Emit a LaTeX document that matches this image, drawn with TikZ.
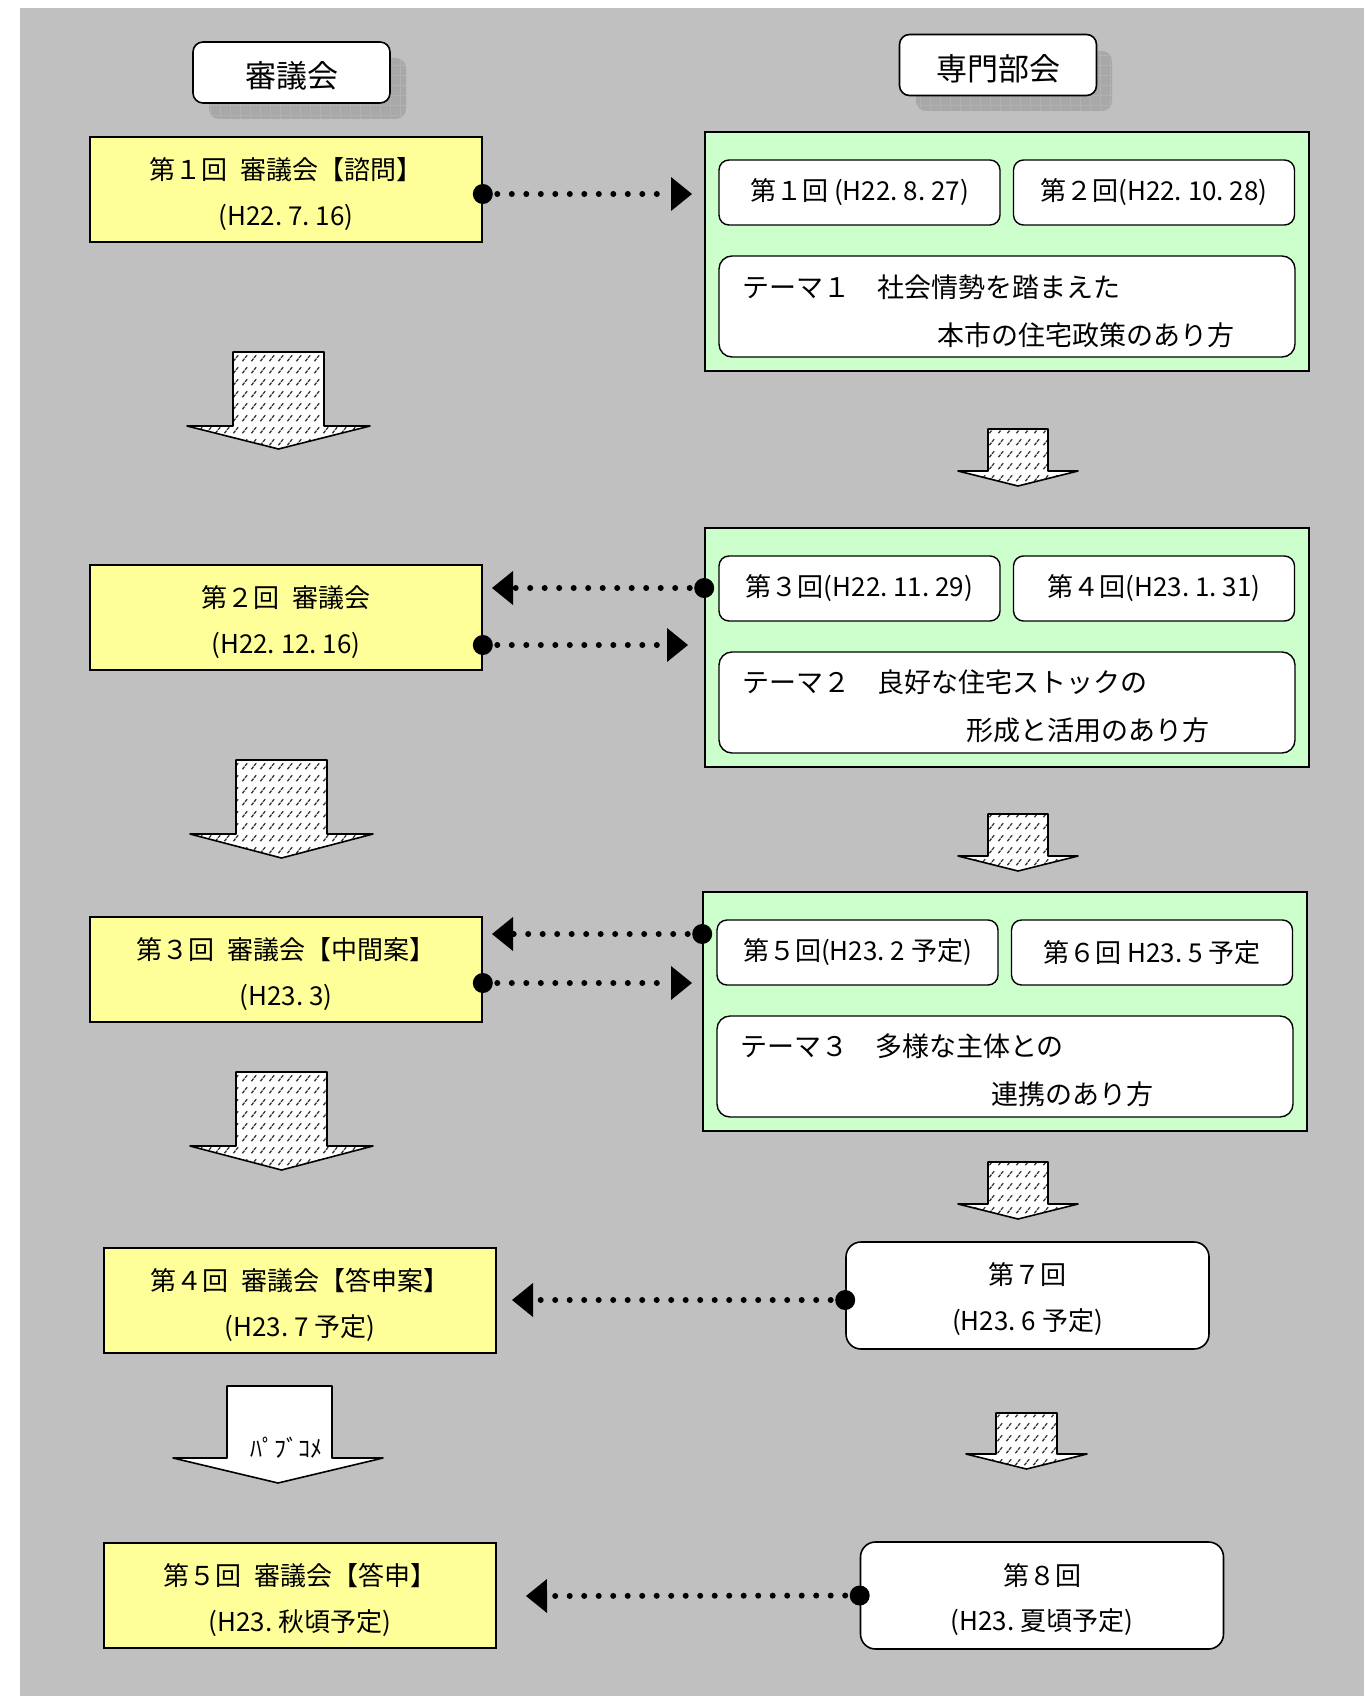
\documentclass[tikz,border=0pt]{standalone}
\usepackage{fontspec}
\newfontfamily\jpfont{Noto Sans CJK JP}
\usetikzlibrary{arrows.meta,patterns}

\definecolor{panel}{HTML}{C0C0C0}
\definecolor{councilfill}{HTML}{FFFF99}
\definecolor{sectionfill}{HTML}{CCFFCC}
\definecolor{shadowfill}{HTML}{A8A8A8}
\definecolor{shadowline}{HTML}{B8B8B8}
\definecolor{hatch}{HTML}{333333}

% short slanted dashes in rows, used inside the flow arrows
\pgfdeclarepatternformonly{slashrows}{\pgfqpoint{0pt}{0pt}}{\pgfqpoint{8.5pt}{12pt}}{\pgfqpoint{8.5pt}{12pt}}{%
  \pgfsetlinewidth{1.35pt}%
  \pgfpathmoveto{\pgfqpoint{1.5pt}{3pt}}\pgfpathlineto{\pgfqpoint{3.7pt}{5.8pt}}%
  \pgfpathmoveto{\pgfqpoint{4.3pt}{6.6pt}}\pgfpathlineto{\pgfqpoint{6.5pt}{9.4pt}}%
  \pgfusepath{stroke}}

% fine grid for the header shadows
\pgfdeclarepatternformonly{shadowgrid}{\pgfqpoint{0pt}{0pt}}{\pgfqpoint{10pt}{10pt}}{\pgfqpoint{10pt}{10pt}}{%
  \pgfsetlinewidth{0.8pt}%
  \pgfpathmoveto{\pgfqpoint{0pt}{0.4pt}}\pgfpathlineto{\pgfqpoint{10pt}{0.4pt}}%
  \pgfpathmoveto{\pgfqpoint{0.4pt}{0pt}}\pgfpathlineto{\pgfqpoint{0.4pt}{10pt}}%
  \pgfusepath{stroke}}

\newcommand\bodytext{\jpfont\fontsize{26pt}{30pt}\selectfont}
\newcommand\themetext{\jpfont\fontsize{27pt}{30pt}\selectfont}
\newcommand\headtext{\jpfont\fontsize{31pt}{34pt}\selectfont}
\newcommand\gap{\hspace{13pt}}

\begin{document}
\begin{tikzpicture}[x=1pt,y=-1pt,font=\bodytext,
  hdr/.style={draw,line width=1.6pt,rounded corners=10pt,fill=white,
    minimum width=197pt,minimum height=61pt,inner sep=0pt,font=\headtext},
  hdrshadow/.style={fill=shadowfill,rounded corners=10pt,
    postaction={pattern=shadowgrid,pattern color=shadowline}},
  council/.style={draw,line width=1.6pt,fill=councilfill,
    minimum width=392pt,minimum height=105pt,inner sep=0pt},
  section/.style={draw,line width=1.6pt,fill=sectionfill,
    minimum width=604pt,minimum height=239pt,inner sep=0pt},
  meeting/.style={draw,line width=1.4pt,rounded corners=10pt,fill=white,
    minimum width=281pt,minimum height=65pt,inner sep=0pt,font=\bodytext},
  theme/.style={draw,line width=1.4pt,rounded corners=13pt,fill=white,
    minimum width=576pt,minimum height=101pt,inner sep=0pt},
  session/.style={draw,line width=1.6pt,rounded corners=15pt,fill=white,
    minimum width=363pt,minimum height=107pt,inner sep=0pt},
  txt/.style={inner sep=0pt,font=\bodytext},
  headtxt/.style={inner sep=0pt,font=\headtext},
  themetxt/.style={inner sep=0pt,font=\themetext,anchor=west},
  flow/.style={draw,line width=1.6pt,line join=round,preaction={fill=white},
    preaction={pattern=slashrows,pattern color=hatch}},
  plainflow/.style={draw,line width=1.6pt,line join=round,fill=white},
  link/.style={line width=6pt,dash pattern=on 0pt off 14.5pt,line cap=round,
    -{Triangle[length=21pt,width=34pt,line width=0pt]}},
  joint/.style={fill=black}]

\useasboundingbox (0,0) rectangle (1366,1696);
\fill[white] (0,0) rectangle (1366,1696);
\fill[panel] (20,8) rectangle (1364,1696);

% column headers with their shadows
\path[hdrshadow] (209,58) rectangle (406,119);
\path[hdrshadow] (916,51) rectangle (1112,111);
\node[hdr] (hcouncil) at (291.5,72.5) {};
\node[headtxt] (hcouncilt) at (291.5,76) {審議会};
\node[hdr] (hsection) at (998,65) {};
\node[headtxt] (hsectiont) at (998,68.5) {専門部会};

% council meetings
\node[council] (c1) at (286,189.5) {};
\node[txt] (c1a) at (286,170) {第１回\gap 審議会【諮問】};
\node[txt] (c1b) at (286,217) {(H22.\ 7.\ 16)};

\node[council] (c2) at (286,617.5) {};
\node[txt] (c2a) at (286,598) {第２回\gap 審議会};
\node[txt] (c2b) at (286,645) {(H22.\ 12.\ 16)};

\node[council] (c3) at (286,969.5) {};
\node[txt] (c3a) at (286,950) {第３回\gap 審議会【中間案】};
\node[txt] (c3b) at (286,997) {(H23.\ 3)};

\node[council] (c4) at (300,1300.5) {};
\node[txt] (c4a) at (300,1281) {第４回\gap 審議会【答申案】};
\node[txt] (c4b) at (300,1328) {(H23.\ 7 予定)};

\node[council] (c5) at (300,1595.5) {};
\node[txt] (c5a) at (300,1576) {第５回\gap 審議会【答申】};
\node[txt] (c5b) at (300,1623) {(H23.\ 秋頃予定)};

% expert section, theme 1
\node[section] (s1) at (1007,251.5) {};
\node[meeting] (s1a) at (859.5,192.5) {第１回 (H22.\ 8.\ 27)};
\node[meeting] (s1b) at (1154,192.5) {第２回(H22.\ 10.\ 28)};
\node[theme] (s1t) at (1007,306.5) {};
\node[themetxt] (s1t1) at (742,287) {テーマ１　社会情勢を踏まえた};
\node[themetxt] (s1t2) at (937,335) {本市の住宅政策のあり方};

% expert section, theme 2
\node[section] (s2) at (1007,647.5) {};
\node[meeting] (s2a) at (859.5,588.5) {第３回(H22.\ 11.\ 29)};
\node[meeting] (s2b) at (1154,588.5) {第４回(H23.\ 1.\ 31)};
\node[theme] (s2t) at (1007,702.5) {};
\node[themetxt] (s2t1) at (742,682) {テーマ２　良好な住宅ストックの};
\node[themetxt] (s2t2) at (966,730) {形成と活用のあり方};

% expert section, theme 3
\node[section] (s3) at (1005,1011.5) {};
\node[meeting] (s3a) at (857.5,952.5) {第５回(H23.\ 2 予定)};
\node[meeting] (s3b) at (1152,952.5) {第６回 H23.\ 5 予定};
\node[theme] (s3t) at (1005,1066.5) {};
\node[themetxt] (s3t1) at (740,1046) {テーマ３　多様な主体との};
\node[themetxt] (s3t2) at (991,1094) {連携のあり方};

% later expert sessions
\node[session] (m7) at (1027.5,1295.5) {};
\node[txt] (m7a) at (1027.5,1275) {第７回};
\node[txt] (m7b) at (1027.5,1322) {(H23.\ 6 予定)};

\node[session] (m8) at (1042,1595.5) {};
\node[txt] (m8a) at (1042,1576) {第８回};
\node[txt] (m8b) at (1042,1622) {(H23.\ 夏頃予定)};

% flow arrows, council column
\draw[flow] (233,352) -- (324,352) -- (324,426) -- (370,426) -- (278.5,449)
  -- (187,426) -- (233,426) -- cycle;
\draw[flow] (236,760) -- (327,760) -- (327,834) -- (373,834) -- (281.5,858)
  -- (190,834) -- (236,834) -- cycle;
\draw[flow] (236,1072) -- (327,1072) -- (327,1146) -- (373,1146) -- (281.5,1170)
  -- (190,1146) -- (236,1146) -- cycle;
\draw[plainflow] (227,1386) -- (332,1386) -- (332,1458) -- (383,1458) -- (278,1483)
  -- (173,1458) -- (227,1458) -- cycle;
\node[txt,font=\jpfont\fontsize{24pt}{26pt}\selectfont] (pubcom) at (286,1448) {ﾊﾟﾌﾞｺﾒ};

% flow arrows, expert column
\draw[flow] (988,429) -- (1048,429) -- (1048,471) -- (1078,471) -- (1018,486)
  -- (958,471) -- (988,471) -- cycle;
\draw[flow] (988,814) -- (1048,814) -- (1048,856) -- (1078,856) -- (1018,871)
  -- (958,856) -- (988,856) -- cycle;
\draw[flow] (988,1162) -- (1048,1162) -- (1048,1204) -- (1078,1204) -- (1018,1219)
  -- (958,1204) -- (988,1204) -- cycle;
\draw[flow] (996,1413) -- (1057,1413) -- (1057,1454) -- (1087,1454) -- (1026.5,1469)
  -- (966,1454) -- (996,1454) -- cycle;

% dotted links between the two columns
\coordinate (p1) at ([yshift=-4.5pt]c1.east);
\coordinate (q1) at (692,194);
\draw[link] (p1) -- (q1);
\fill[joint] (p1) circle[radius=10pt];

\coordinate (p2) at ([yshift=59.5pt]s2.west);
\coordinate (q2) at (492,588);
\draw[link] (p2) -- (q2);
\fill[joint] (p2) circle[radius=10pt];

\coordinate (p3) at ([yshift=-27.5pt]c2.east);
\coordinate (q3) at (688,645);
\draw[link] (p3) -- (q3);
\fill[joint] (p3) circle[radius=10pt];

\coordinate (p4) at ([yshift=77.5pt]s3.west);
\coordinate (q4) at (492,934);
\draw[link] (p4) -- (q4);
\fill[joint] (p4) circle[radius=10pt];

\coordinate (p5) at ([yshift=-13.5pt]c3.east);
\coordinate (q5) at (692,983);
\draw[link] (p5) -- (q5);
\fill[joint] (p5) circle[radius=10pt];

\coordinate (p6) at ([yshift=-4.5pt]m7.west);
\coordinate (q6) at (512,1300);
\draw[link] (p6) -- (q6);
\fill[joint] (p6) circle[radius=10pt];

\coordinate (p7) at (m8.west);
\coordinate (q7) at (526,1596);
\draw[link] (p7) -- (q7);
\fill[joint] (p7) circle[radius=10pt];
\end{tikzpicture}
\end{document}
